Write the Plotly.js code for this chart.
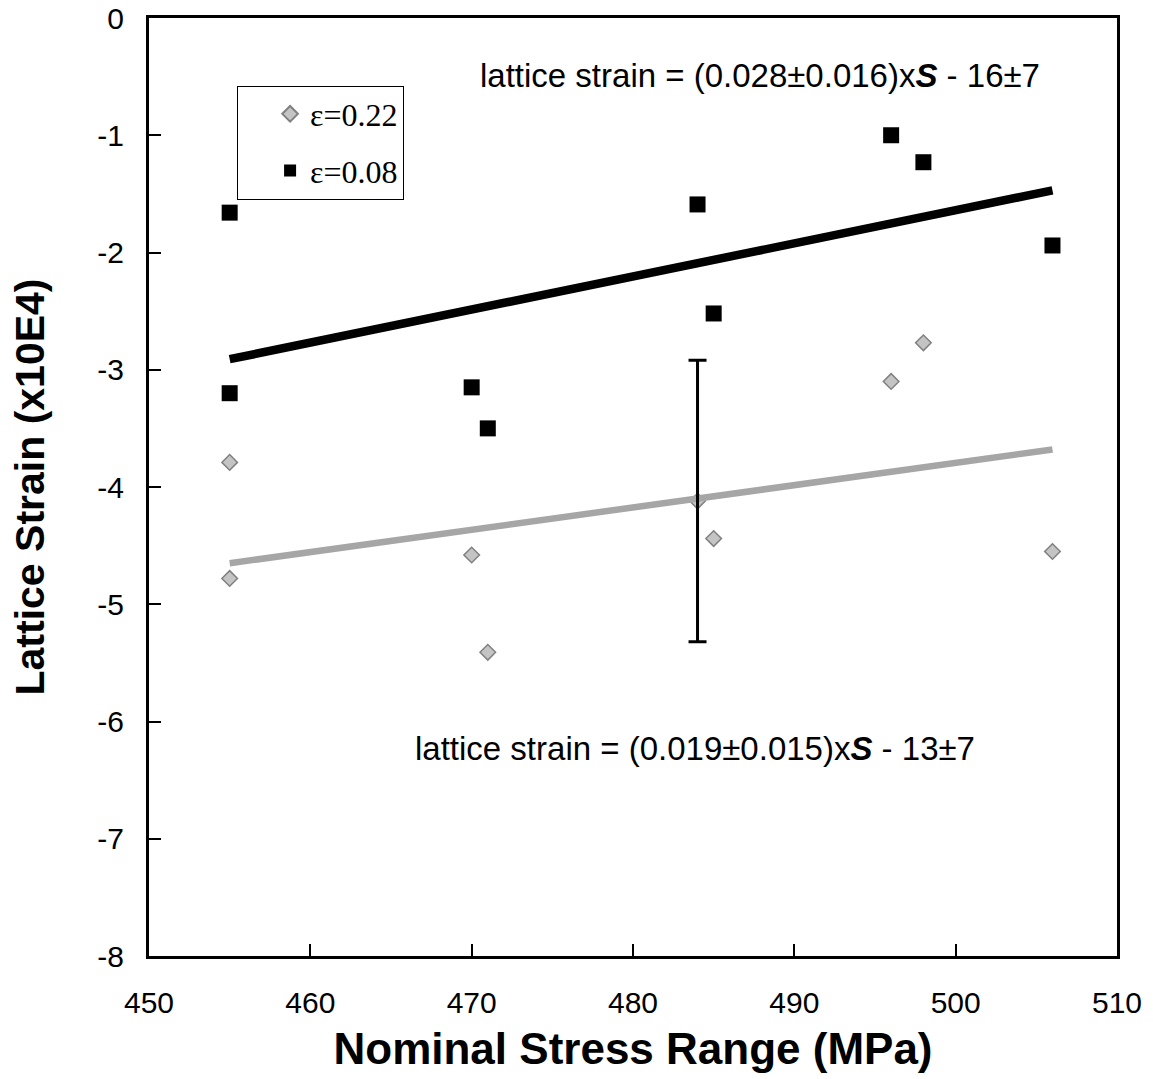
<!DOCTYPE html>
<html>
<head>
<meta charset="utf-8">
<script src="https://cdn.plot.ly/plotly-3.0.1.min.js"></script>
<style>html,body{margin:0;padding:0;background:#fff;}#chart{width:1153px;height:1079px;}</style>
</head>
<body>
<div id="chart"></div>
<script>
// ---- data ----
const stress022 = [455, 455, 470, 471, 484, 485, 496, 498, 506];
const strain022 = [-3.79, -4.78, -4.58, -5.41, -4.12, -4.44, -3.10, -2.77, -4.55];
const stress008 = [455, 455, 470, 471, 484, 485, 496, 498, 506];
const strain008 = [-1.66, -3.20, -3.15, -3.50, -1.59, -2.52, -1.00, -1.23, -1.94];
const fitX = [455, 506];
const fit022Y = [-4.65, -3.68];
const fit008Y = [-2.91, -1.47];
const errX = [484];
const errY = [-4.12];
const errSize = [1.2];
const xTicks = [450, 460, 470, 480, 490, 500, 510];
const yTicks = [0, -1, -2, -3, -4, -5, -6, -7, -8];
const eq008 = 'lattice strain = (0.028±0.016)x<b><i>S</i></b> - 16±7';
const eq022 = 'lattice strain = (0.019±0.015)x<b><i>S</i></b> - 13±7';

const sans = 'Liberation Sans, Arial, Helvetica, sans-serif';

const traces = [
  {
    x: stress022, y: strain022, mode: 'markers', type: 'scatter', name: 'ε=0.22',
    marker: {symbol: 'diamond', size: 12, color: '#c4c4c4', line: {color: '#808080', width: 1.5}},
    legendgroup: 'a'
  },
  {
    x: stress008, y: strain008, mode: 'markers', type: 'scatter', name: 'ε=0.08',
    marker: {symbol: 'square', size: 16, color: '#000000'},
    legendgroup: 'b'
  },
  {
    x: fitX, y: fit022Y, mode: 'lines', type: 'scatter', showlegend: false,
    line: {color: '#a6a6a6', width: 6.5}
  },
  {
    x: fitX, y: fit008Y, mode: 'lines', type: 'scatter', showlegend: false,
    line: {color: '#000000', width: 8.5}
  },
  {
    x: errX, y: errY, mode: 'markers', type: 'scatter', showlegend: false,
    marker: {size: 1, color: 'rgba(0,0,0,0)'},
    error_y: {type: 'data', array: errSize, symmetric: true, color: '#000000', thickness: 3, width: 9}
  }
];

const layout = {
  width: 1153, height: 1079,
  margin: {l: 149, r: 36, t: 18, b: 123},
  paper_bgcolor: '#ffffff', plot_bgcolor: '#ffffff',
  font: {family: sans, color: '#000000'},
  xaxis: {
    range: [450, 510], tickvals: xTicks, ticktext: xTicks.map(String),
    ticks: 'inside', ticklen: 12, tickwidth: 2, tickcolor: '#000',
    showline: true, linewidth: 3, linecolor: '#000', mirror: true,
    showgrid: false, zeroline: false,
    tickfont: {family: sans, size: 30, color: '#000'},
    ticklabelstandoff: 18,
    title: {text: '<b>Nominal Stress Range (MPa)</b>', font: {family: sans, size: 44, color: '#000'}, standoff: 16}
  },
  yaxis: {
    range: [-8, 0], tickvals: yTicks, ticktext: yTicks.map(String),
    ticks: 'inside', ticklen: 12, tickwidth: 2, tickcolor: '#000',
    showline: true, linewidth: 3, linecolor: '#000', mirror: true,
    showgrid: false, zeroline: false,
    tickfont: {family: sans, size: 30, color: '#000'},
    ticklabelstandoff: 16,
    title: {text: '<b>Lattice Strain (x10E4)</b>', font: {family: sans, size: 41, color: '#000'}, standoff: 40}
  },
  showlegend: true,
  legend: {
    x: 0.091, y: 0.928, xanchor: 'left', yanchor: 'top',
    bgcolor: '#ffffff', bordercolor: '#000000', borderwidth: 1,
    font: {family: 'Liberation Serif, Times New Roman, serif', size: 32, color: '#000'},
    tracegroupgap: 12, itemsizing: 'constant', indentation: 32
  },
  annotations: [
    {x: 487.9, y: -0.49, xref: 'x', yref: 'y', text: eq008, showarrow: false,
     font: {family: sans, size: 33, color: '#000'}},
    {x: 483.85, y: -6.23, xref: 'x', yref: 'y', text: eq022, showarrow: false,
     font: {family: sans, size: 33, color: '#000'}}
  ]
};

Plotly.newPlot('chart', traces, layout, {displayModeBar: false, staticPlot: true});
</script>
</body>
</html>
